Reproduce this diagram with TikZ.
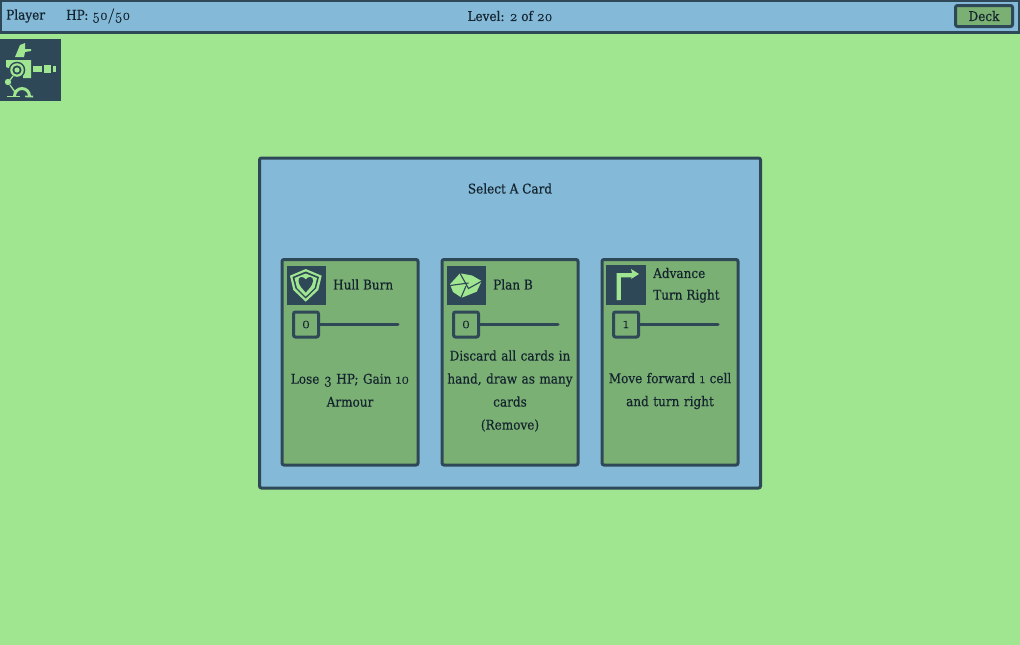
\documentclass[tikz,border=0pt]{standalone}
\usepackage{fontspec}
\setmainfont{DejaVu Serif Condensed}[RawFeature={embolden=0.35}]
\newfontfamily\osn{Latin Modern Roman}[Numbers=OldStyle,Scale=1.12,RawFeature={embolden=0.5}]
\newcommand{\onum}[1]{{\osn #1}}
\definecolor{bgg}{HTML}{A0E590}
\definecolor{blu}{HTML}{84B9D8}
\definecolor{drk}{HTML}{2F4858}
\definecolor{crd}{HTML}{7AB073}
\definecolor{txt}{HTML}{14242E}
\tikzset{
 panel/.style={draw=drk,line width=3pt,rounded corners=2pt,fill=blu},
 cardbox/.style={draw=drk,line width=3pt,rounded corners=2pt,fill=crd},
 iconbox/.style={fill=drk,draw=none},
 lab/.style={text=txt,font=\fontsize{13.4}{23}\selectfont,inner sep=0pt,align=center},
 numbox/.style={draw=drk,line width=3pt,rounded corners=2pt,fill=crd,minimum width=25pt,minimum height=25pt,inner sep=0pt,text=txt,font=\fontsize{14}{14}\selectfont},
 slider/.style={draw=drk,line width=3pt,line cap=round},
 ink/.style={fill=bgg,draw=none}
}
\begin{document}
\begin{tikzpicture}[x=1pt,y=-1pt]
\useasboundingbox (0,0) rectangle (1020,645);
\fill[bgg] (0,0) rectangle (1020,645);
% top bar
\draw[draw=drk,line width=3pt,fill=blu] (0.5,0.5) rectangle (1019.5,32);
\node[lab,anchor=west] (player) at (6,16) {Player};
\node[lab,anchor=west] (hp) at (66,16) {HP: \onum{50/50}};
\node[lab] (level) at (510,16) {Level: \onum{2} of \onum{20}};
\node[cardbox,minimum width=57pt,minimum height=21pt,inner sep=0pt,text=txt,font=\fontsize{13.4}{16}\selectfont] (deck) at (984,16) {Deck};
% player icon
\fill[iconbox] (0,39) rectangle (61,101);
\fill[ink] (15,57)--(20,45)--(25,43)--(25,49)--(31,49)--(31,51)--(25,52)--(24,57)--cycle;
\fill[ink] (6,60)--(31,60)--(31,78)--(23,78)--(23,75)--(11,75)--(11,69)--(6,67)--cycle;
\fill[drk] (17,70) circle (8.3);
\fill[ink] (17,70) circle (6.8);
\fill[drk] (17,70) circle (4.6);
\fill[ink] (17,70) circle (2.6);
\fill[ink] (33,66) rectangle (42,72);
\fill[ink] (43.5,64.5) rectangle (51,73);
\fill[ink] (53,66) rectangle (56,72);
\fill[ink] (8,82) circle (3.2);
\draw[bgg,line width=1.3pt] (13,76)--(10,80);
\draw[bgg,line width=1.3pt] (10,85)--(15,92);
\fill[ink] (13,96) arc (180:360:9) -- (28,96) arc (360:180:6) --cycle;
\fill[ink] (7,95.5) rectangle (20,97.2);
\fill[ink] (25,95.5) -- (33,95.5) -- (33,97.5)-- (25,97.2) --cycle;
% panel
\draw[panel] (259.5,158) rectangle (760.5,488);
\node[lab] (title) at (510,188.5) {Select A Card};
% card 1
\draw[cardbox] (282,259.5) rectangle (418,465);
\fill[iconbox] (287,266) rectangle (325.5,304.5);
\fill[ink] (305.7,269)--(321.7,275.7)--(318.3,290)--(305.7,301.7)--(293.3,290)--(290,275.7)--cycle;
\fill[drk] (305.7,271.5)--(319,277)--(316,288.5)--(305.7,298.5)--(295.5,288.5)--(292.5,277)--cycle;
\fill[ink] (305.7,273.5)--(317,278)--(314.5,288)--(305.7,296.5)--(297,288)--(294.5,278)--cycle;
\fill[drk] (305.7,279.5) .. controls (303,275.5) and (298,276.5) .. (298.5,281) .. controls (299,286) and (303,289) .. (305.7,292.5) .. controls (308.5,289) and (312.5,286) .. (313,281) .. controls (313.5,276.5) and (308.5,275.5) .. (305.7,279.5) --cycle;
\node[lab,anchor=west] (t1) at (333,284.5) {Hull Burn};
\node[numbox] (n1) at (306,324.5) {\onum{0}};
\coordinate (e1) at (398,324.5);
\draw[slider] (n1) -- (e1);
\node[lab,text width=130pt] (d1) at (350,390.3) {Lose \onum{3} HP; Gain \onum{10}\\Armour};
% card 2
\draw[cardbox] (442,259.5) rectangle (578,465);
\fill[iconbox] (447,266) rectangle (485.5,304.5);
\fill[ink] (450,284.3)--(460,273.3)--(472,275.5)--(481.7,281)--(476.7,291.7)--(461.7,297.7)--(453,292)--cycle;
\draw[drk,line width=1.1pt] (460,273.3)--(468.5,288.5)--(482,281);
\draw[drk,line width=1.1pt] (450,285.5)--(468.5,283) ;
\draw[drk,line width=1.1pt] (461,297.7)--(466,286);
\node[lab,anchor=west] (t2) at (493,284.5) {Plan B};
\node[numbox] (n2) at (466,324.5) {\onum{0}};
\coordinate (e2) at (558,324.5);
\draw[slider] (n2) -- (e2);
\node[lab,text width=134pt] (d2) at (510,391) {Discard all cards in\\hand, draw as many\\cards\\(Remove)};
% card 3
\draw[cardbox] (602,259.5) rectangle (738,465);
\fill[iconbox] (606,265) rectangle (646,305);
\fill[ink] (616.7,300)--(616.7,273)--(632,273)--(631,269)--(639,274)--(631,279)--(632,277.3)--(620.8,277.3)--(620.8,300)--cycle;
\node[lab,anchor=west] (t3a) at (653,273) {Advance};
\node[lab,anchor=west] (t3b) at (653,296) {Turn Right};
\node[numbox] (n3) at (626,324.5) {\onum{1}};
\coordinate (e3) at (718,324.5);
\draw[slider] (n3) -- (e3);
\node[lab,text width=130pt] (d3) at (670,391) {Move forward \onum{1} cell\\and turn right};
\end{tikzpicture}
\end{document}
